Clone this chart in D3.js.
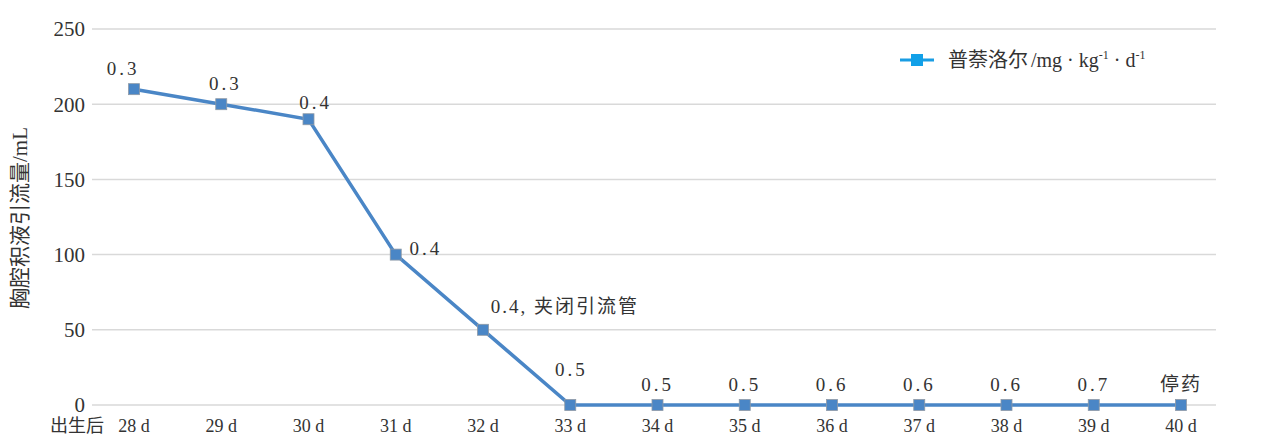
<!DOCTYPE html>
<meta charset="utf-8">
<style>
body { margin: 0; background: #fff; }
text { font-family: "Liberation Serif", "Noto Sans CJK SC", serif; fill: #333; }
.grid line { stroke: #d9d9d9; stroke-width: 1.5px; }
.line { fill: none; stroke: #4a86c6; stroke-width: 3.5px; }
</style>
<svg width="1268" height="437"></svg>
<script src="https://cdn.jsdelivr.net/npm/d3@7"></script>
<script>

var days = ["28 d", "29 d", "30 d", "31 d", "32 d", "33 d", "34 d", "35 d", "36 d", "37 d", "38 d", "39 d", "40 d"];
var volumes = [210, 200, 190, 100, 50, 0, 0, 0, 0, 0, 0, 0, 0];
var doseLabels = ["0.3", "0.3", "0.4", "0.4", "0.4, 夹闭引流管", "0.5", "0.5", "0.5", "0.6", "0.6", "0.6", "0.7", "停药"];
var yTicks = [0, 50, 100, 150, 200, 250];

var svg = d3.select("svg");

var x = d3.scalePoint().domain(days).range([134, 1181]),
    y = d3.scaleLinear().domain([0, 250]).range([405, 29]);

// gridlines
svg.append("g")
    .attr("class", "grid")
  .selectAll("line")
  .data(yTicks)
  .enter().append("line")
    .attr("x1", 92).attr("x2", 1216)
    .attr("y1", function(d) { return y(d); })
    .attr("y2", function(d) { return y(d); });

// y tick labels
svg.append("g").selectAll("text")
  .data(yTicks)
  .enter().append("text")
    .attr("x", 85)
    .attr("y", function(d) { return y(d); })
    .attr("dy", "0.35em")
    .attr("text-anchor", "end")
    .style("font-size", "21px")
    .text(function(d) { return d; });

// x tick labels
svg.append("g").selectAll("text")
  .data(days)
  .enter().append("text")
    .attr("x", function(d) { return x(d); })
    .attr("y", 432)
    .attr("text-anchor", "middle")
    .style("font-size", "18px")
    .text(function(d) { return d; });

svg.append("text")
    .attr("x", 77).attr("y", 432)
    .attr("text-anchor", "middle")
    .style("font-size", "18px")
    .text("出生后");

// y title
svg.append("text")
    .attr("transform", "translate(27,218) rotate(-90)")
    .attr("text-anchor", "middle")
    .style("font-size", "21px")
    .text("胸腔积液引流量/mL");

var pts = days.map(function(d, i) { return {day: d, v: volumes[i], label: doseLabels[i]}; });

var line = d3.line()
    .x(function(d) { return x(d.day); })
    .y(function(d) { return y(d.v); });

svg.append("path")
    .datum(pts)
    .attr("class", "line")
    .attr("d", line);

svg.append("g").selectAll("rect")
  .data(pts)
  .enter().append("rect")
    .attr("x", function(d) { return x(d.day) - 5.5; })
    .attr("y", function(d) { return y(d.v) - 5.5; })
    .attr("width", 11).attr("height", 11)
    .attr("fill", "#4a86c6")
    .attr("stroke", "#8f9aa6")
    .attr("stroke-width", 0.8);

// data labels
var offsets = [[-11, -14], [4, -14], [7, -10], [30, 0], [82, -17], [1, -29], [0, -14], [0, -14], [0, -14], [0, -14], [0, -14], [0, -14], [0, -14]];
svg.append("g").selectAll("text")
  .data(pts)
  .enter().append("text")
    .attr("x", function(d, i) { return x(d.day) + offsets[i][0]; })
    .attr("y", function(d, i) { return y(d.v) + offsets[i][1]; })
    .attr("text-anchor", "middle")
    .style("font-size", "19px")
    .style("letter-spacing", function(d) { return /^[0-9.]+$/.test(d.label) ? "3px" : "2px"; })
    .text(function(d) { return d.label; });

// legend
var lg = svg.append("g").attr("transform", "translate(900,60)");
lg.append("line").attr("x1", 0).attr("x2", 34).attr("y1", 0).attr("y2", 0)
    .attr("stroke", "#1a9de3").attr("stroke-width", 3);
lg.append("rect").attr("x", 11).attr("y", -6).attr("width", 12).attr("height", 12)
    .attr("fill", "#12a0e8");
var lt = lg.append("text").attr("x", 48).attr("y", 7).style("font-size", "20px");
lt.append("tspan").text("普萘洛尔");
lt.append("tspan").attr("dx", 3).text("/mg · kg");
lt.append("tspan").attr("dy", -8).style("font-size", "12px").text("-1");
lt.append("tspan").attr("dy", 8).text(" · d");
lt.append("tspan").attr("dy", -8).style("font-size", "12px").text("-1");

</script>
